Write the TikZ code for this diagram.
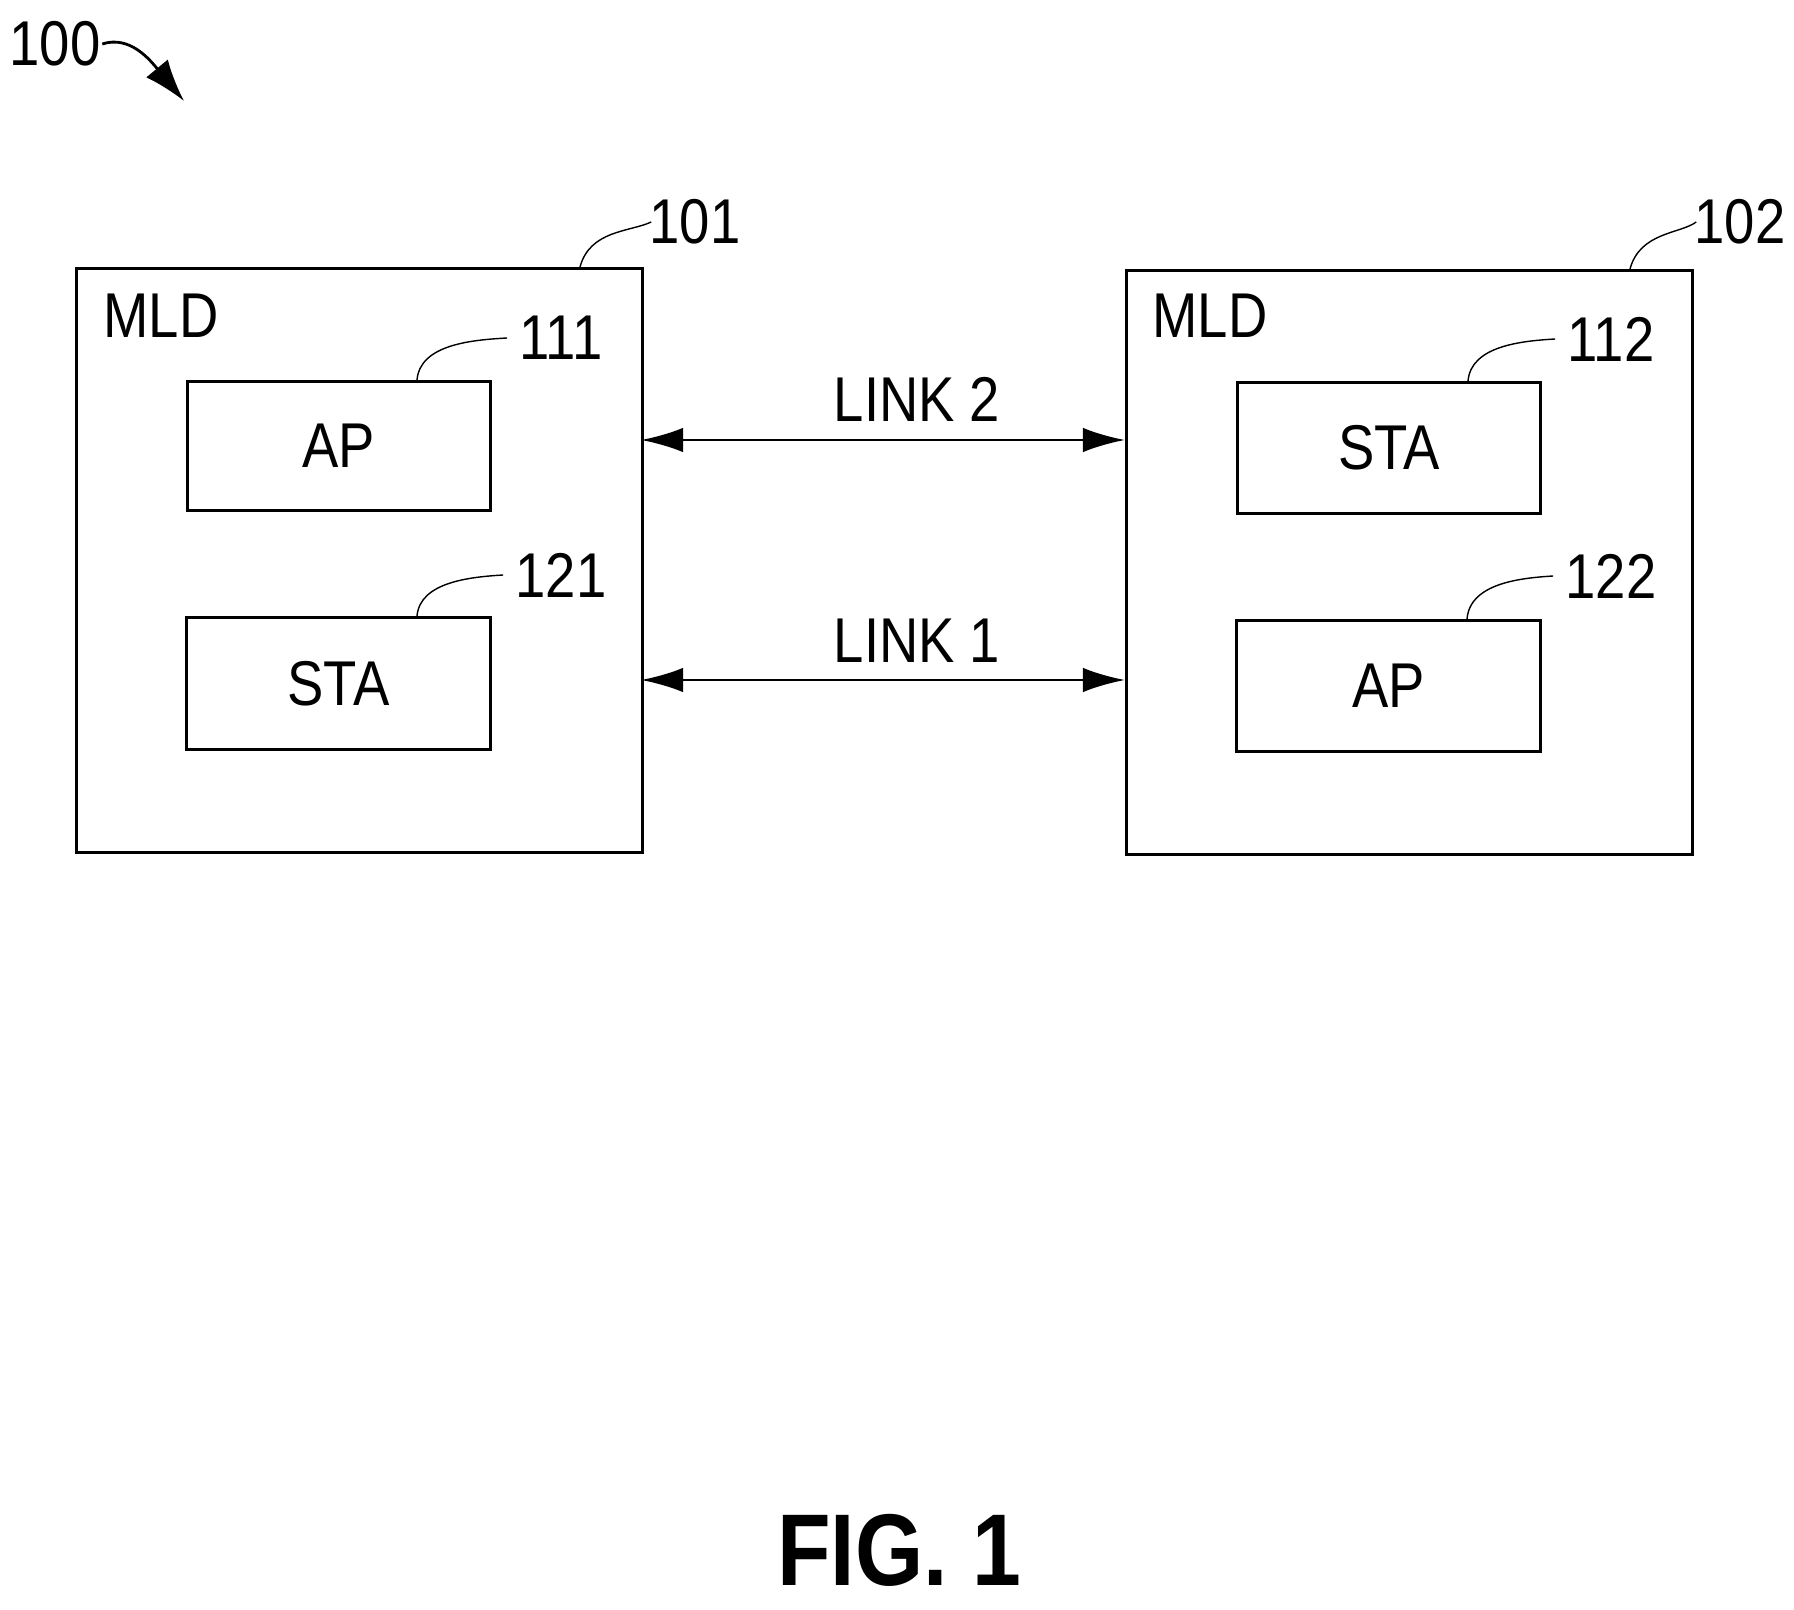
\documentclass[tikz,border=0pt]{standalone}
\usepackage{fontspec}
\setmainfont{Liberation Sans}[FakeStretch=0.86]
\usetikzlibrary{positioning, arrows.meta}
\tikzstyle{arrow} = [thick,{Latex[length=12pt,width=7pt]}-{Latex[length=12pt,width=7pt]}]
\tikzstyle{box} = [draw,thick,rectangle,anchor=north west]
\tikzstyle{lbl} = [font=\fontsize{18}{20}\selectfont]
\begin{document}
\begin{tikzpicture}[x=0.01cm,y=-0.01cm]
	\useasboundingbox (0,0) rectangle (1794,1610);
	%Outer boxes
	\node [box,minimum width=566*0.01cm,minimum height=584*0.01cm] (mld1) at (75,267) {};
	\node [box,minimum width=566*0.01cm,minimum height=584*0.01cm] (mld2) at (1125,269) {};
	\node [lbl] (t1) at (161,316) {MLD};
	\node [lbl] (t2) at (1210,316) {MLD};
	
	%Inner boxes
	\node [box,minimum width=303*0.01cm,minimum height=129*0.01cm] (ap1) at (186,380) {};
	\node [lbl] at (ap1.center) {AP};
	\node [box,minimum width=304*0.01cm,minimum height=132*0.01cm] (sta1) at (185,616) {};
	\node [lbl] at (sta1.center) {STA};
	\node [box,minimum width=303*0.01cm,minimum height=131*0.01cm] (sta2) at (1236,381) {};
	\node [lbl] at (sta2.center) {STA};
	\node [box,minimum width=304*0.01cm,minimum height=131*0.01cm] (ap2) at (1235,619) {};
	\node [lbl] at (ap2.center) {AP};
	
	%Links
	\coordinate (l2a) at (641,440);
	\coordinate (l2b) at (1125,440);
	\coordinate (l1a) at (641,680);
	\coordinate (l1b) at (1125,680);
	\draw[arrow] (l2a) -- (l2b);
	\draw[arrow] (l1a) -- (l1b);
	\node [lbl] (link2) at (917,399) {LINK 2};
	\node [lbl] (link1) at (917,641) {LINK 1};
	
	%Reference numerals
	\node [lbl] (n101) at (695,222) {101};
	\node [lbl] (n102) at (1740,222) {102};
	\node [lbl] (n111) at (561,338) {111};
	\node [lbl] (n121) at (561,575) {121};
	\node [lbl] (n112) at (1611,339) {112};
	\node [lbl] (n122) at (1611,576) {122};
	\node [lbl] (n100) at (55,44) {100};
	\draw (580,267) .. controls (590,230) and (630,232) .. ([xshift=4pt]n101.west);
	\draw (1630,269) .. controls (1640,232) and (1680,234) .. ([xshift=4pt]n102.west);
	\draw (417,380) .. controls (420,345) and (470,340) .. (n111.west);
	\draw (417,616) .. controls (420,582) and (470,577) .. (n121.west);
	\draw (1468,381) .. controls (1471,346) and (1521,341) .. (n112.west);
	\draw (1467,619) .. controls (1470,583) and (1521,578) .. (n122.west);
	\draw[thick,-{Latex[length=12pt,width=8pt]}] ([xshift=-3pt]n100.east) .. controls (130,35) and (150,60) .. (184,101);
	
	\node [font=\fontsize{29}{32}\selectfont\bfseries] (fig) at (899,1550) {FIG. 1};
\end{tikzpicture}
\end{document}
